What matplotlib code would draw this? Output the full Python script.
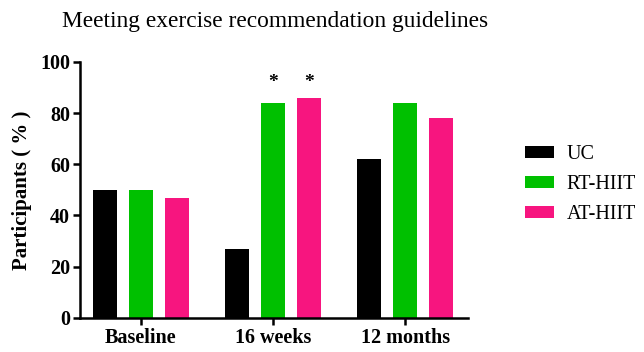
import matplotlib
matplotlib.use("Agg")
import matplotlib.pyplot as plt
import numpy as np

groups = ["Baseline", "16 weeks", "12 months"]
series = ["UC", "RT-HIIT", "AT-HIIT"]
uc = [50, 27, 62]
rt_hiit = [50, 84, 84]
at_hiit = [47, 86, 78]
colors = ["#000000", "#00c000", "#f7157f"]
star_groups = [1, 1]
star_series = [1, 2]
star_y = 92

plt.rcParams["font.family"] = ["Liberation Serif", "DejaVu Serif"]

fig = plt.figure(figsize=(6.44, 3.52), dpi=100)
ax = fig.add_axes([0.124, 0.097, 0.603, 0.727])

x = np.arange(len(groups))
pitch = 0.273
width = 0.18
for i, (name, vals) in enumerate(zip(series, [uc, rt_hiit, at_hiit])):
    ax.bar(x + (i - 1) * pitch, vals, width=width, color=colors[i], label=name)

for g, s in zip(star_groups, star_series):
    ax.text(g + (s - 1) * pitch, star_y, "*", ha="center", va="center",
            fontsize=14, fontweight="bold")

ax.set_xlim(-0.462, 2.477)
ax.set_ylim(0, 100)
ax.set_yticks(range(0, 101, 20))
ax.set_xticks(x)
ax.set_xticklabels(groups)
for lab in ax.get_xticklabels() + ax.get_yticklabels():
    lab.set_fontweight("bold")
    lab.set_fontsize(14.5)
ax.tick_params(direction="out", length=5, width=1.8, pad=2)
ax.spines["top"].set_visible(False)
ax.spines["right"].set_visible(False)
ax.spines["left"].set_linewidth(1.8)
ax.spines["bottom"].set_linewidth(1.8)
ax.set_ylabel("Participants ( % )", fontsize=15, fontweight="bold", labelpad=6)

fig.text(0.427, 0.94, "Meeting exercise recommendation guidelines",
         ha="center", va="center", fontsize=16.8)

ax.legend(loc="center left", bbox_to_anchor=(1.1, 0.52), frameon=False,
          fontsize=14.5, handlelength=1.45, handleheight=0.55, labelspacing=0.55,
          handletextpad=0.6)

fig.savefig("out.png", dpi=100)
